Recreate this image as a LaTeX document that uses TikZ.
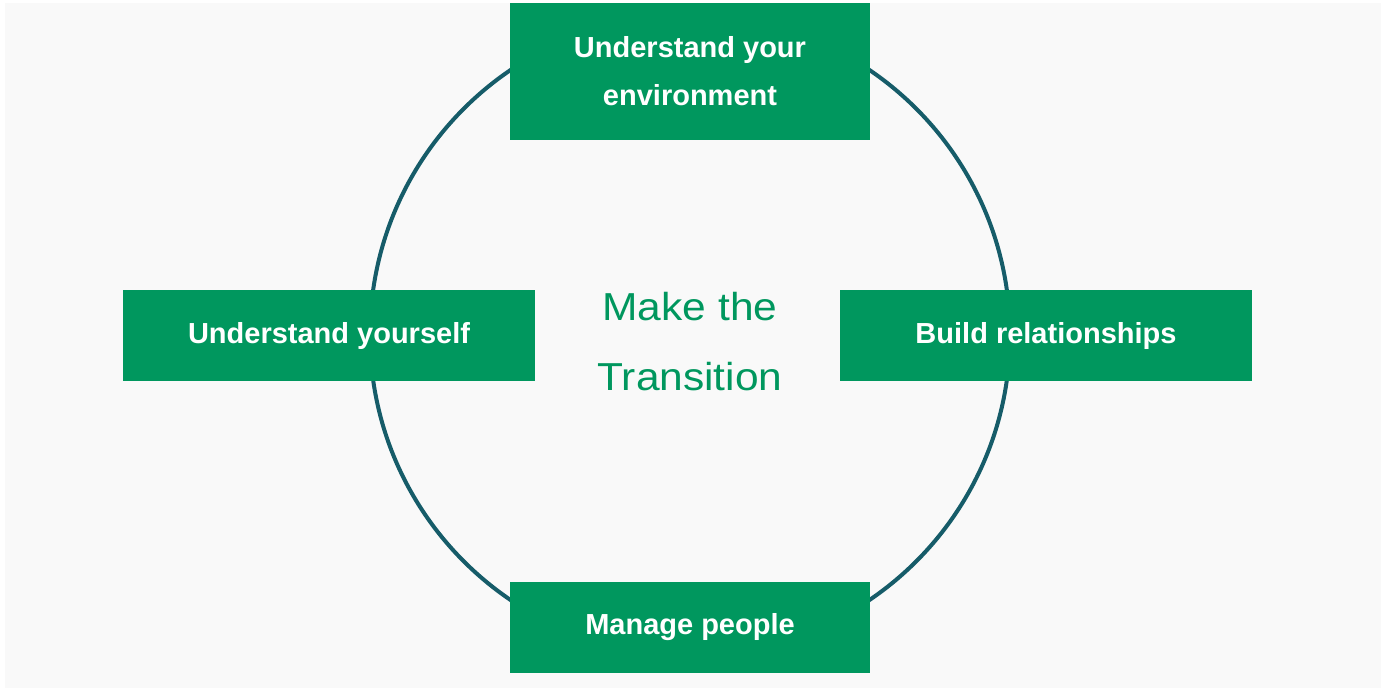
\documentclass[tikz,border=0pt]{standalone}
\usepackage{fontspec}
\setmainfont{Liberation Sans}
\newfontfamily\widefont[FakeStretch=1.09]{Liberation Sans}
\definecolor{boxgreen}{RGB}{0,151,94}
\definecolor{ringteal}{RGB}{22,92,105}
\definecolor{bggray}{RGB}{249,249,249}
\begin{document}
\begin{tikzpicture}[x=1pt,y=-1pt,
  stagebox/.style={fill=boxgreen, draw=none, text=white, align=center, inner sep=0pt,
    font=\fontsize{29}{48}\selectfont\bfseries},
  centertext/.style={text=boxgreen, align=center, inner sep=0pt,
    font=\widefont\fontsize{39}{70}\selectfont}]
\useasboundingbox (0,0) rectangle (1383,690);
\fill[white] (0,0) rectangle (1383,690);
\fill[bggray] (5,3) rectangle (1381,688);
\coordinate (c) at (690,335);
\draw[ringteal, line width=4pt] (c) circle[radius=320pt];
\node[stagebox, minimum width=360pt, minimum height=137pt] (env) at (690,71.5) {Understand your\\environment};
\node[stagebox, minimum width=412pt, minimum height=91pt] (self) at (329,335.5) {Understand yourself};
\node[stagebox, minimum width=412pt, minimum height=91pt] (rel) at (1046,335.5) {Build relationships};
\node[stagebox, minimum width=360pt, minimum height=91pt] (ppl) at (690,627.5) {Manage people};
\node[centertext] (mt) at (690,342) {Make the\\Transition};
\end{tikzpicture}
\end{document}
